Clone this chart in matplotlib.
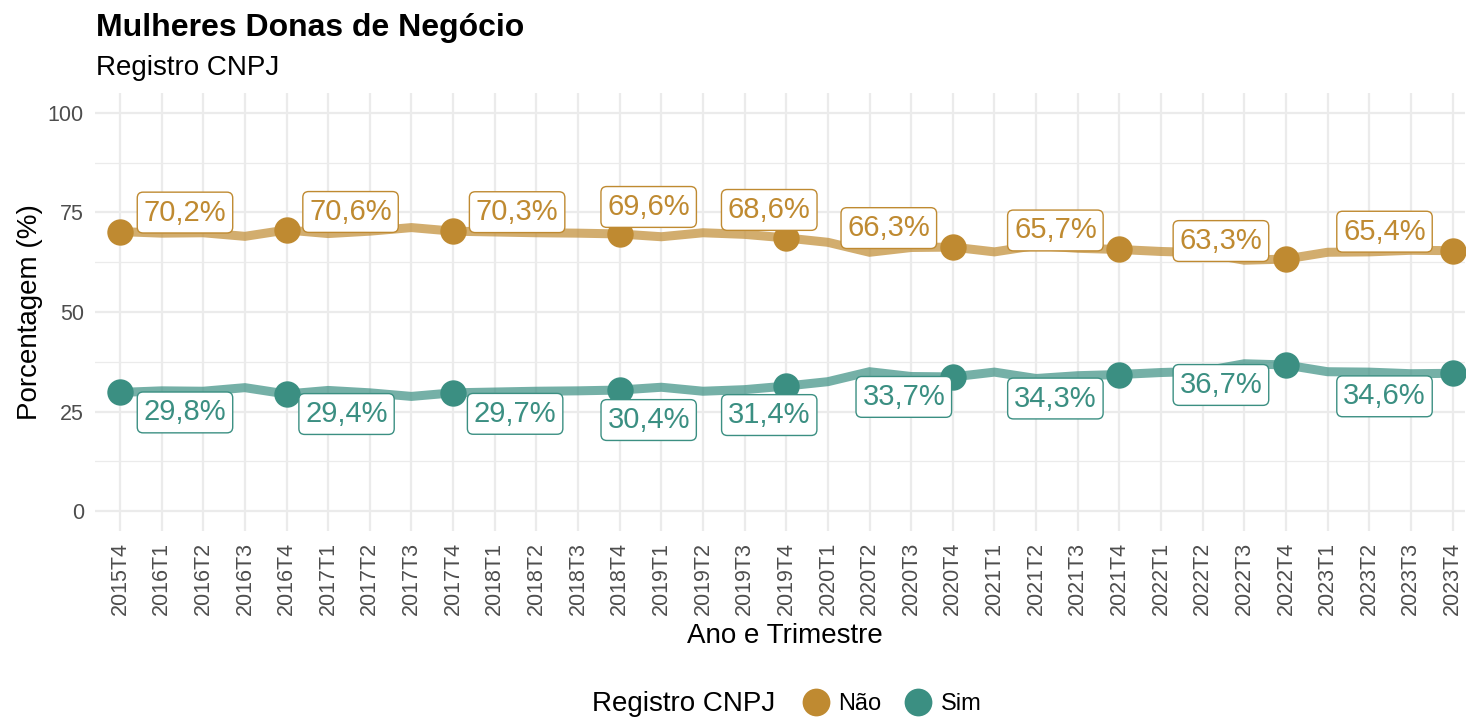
import matplotlib.pyplot as plt
from matplotlib.lines import Line2D

plt.rcParams['font.family'] = ['Liberation Sans', 'DejaVu Sans']

trimestres = ['2015T4',
              '2016T1', '2016T2', '2016T3', '2016T4',
              '2017T1', '2017T2', '2017T3', '2017T4',
              '2018T1', '2018T2', '2018T3', '2018T4',
              '2019T1', '2019T2', '2019T3', '2019T4',
              '2020T1', '2020T2', '2020T3', '2020T4',
              '2021T1', '2021T2', '2021T3', '2021T4',
              '2022T1', '2022T2', '2022T3', '2022T4',
              '2023T1', '2023T2', '2023T3', '2023T4']

nao = [70.2,
       69.8, 69.9, 69.0, 70.6,
       69.7, 70.3, 71.2, 70.3,
       70.1, 69.9, 69.8, 69.6,
       68.9, 69.9, 69.5, 68.6,
       67.5, 65.0, 66.2, 66.3,
       65.1, 66.7, 66.0, 65.7,
       65.2, 64.9, 63.0, 63.3,
       65.0, 65.1, 65.5, 65.4]

sim = [29.8,
       30.2, 30.1, 31.0, 29.4,
       30.3, 29.7, 28.8, 29.7,
       29.9, 30.1, 30.2, 30.4,
       31.1, 30.1, 30.5, 31.4,
       32.5, 35.0, 33.8, 33.7,
       34.9, 33.3, 34.0, 34.3,
       34.8, 35.1, 37.0, 36.7,
       35.0, 34.9, 34.5, 34.6]

cor_nao = '#bf8a31'
cor_sim = '#3b8f82'

# label offsets (pixels) picked to mimic the repelled labels
desloc_nao = [(65, 19), (64, 18), (64, 19), (29, 27), (-17, 28),
              (-64, 19), (-64, 19), (-65, 18), (-68, 19)]
desloc_sim = [(65, -20), (60, -20), (62, -21), (29, -30), (-17, -29),
              (-49, -20), (-64, -24), (-65, -20), (-68, -23)]

W, H = 1468, 718
fig = plt.figure(figsize=(W / 100, H / 100), dpi=100)
ax = fig.add_axes([95 / W, 1 - 531 / H, (1465 - 95) / W, (531 - 93) / H])

x = list(range(len(trimestres)))
marcados = [i for i, t in enumerate(trimestres) if t.endswith('T4')]

for serie, cor, desloc in [(nao, cor_nao, desloc_nao), (sim, cor_sim, desloc_sim)]:
    ax.plot(x, serie, color=cor, lw=6.5, alpha=0.7, solid_joinstyle='miter', zorder=3)
    ax.plot([x[i] for i in marcados], [serie[i] for i in marcados], 'o',
            color=cor, ms=19, mec='none', zorder=4)
    for (dx, dy), i in zip(desloc, marcados):
        rotulo = f'{serie[i]:.1f}%'.replace('.', ',')
        ax.annotate(rotulo, (x[i], serie[i]), xytext=(dx * 0.72, dy * 0.72),
                    textcoords='offset points', ha='center', va='center',
                    fontsize=21, color=cor, zorder=5,
                    bbox=dict(boxstyle='round,pad=0.22,rounding_size=0.2',
                              fc='white', ec=cor, lw=1))

ax.set_xlim(-0.6, 32.3)
ax.set_ylim(-5, 105)
ax.set_xticks(x)
ax.set_xticklabels(trimestres, rotation=90)
ax.set_yticks([0, 25, 50, 75, 100])
ax.set_yticks([12.5, 37.5, 62.5, 87.5], minor=True)
ax.tick_params(axis='both', which='both', length=0, labelsize=15.5,
               labelcolor='#4d4d4d', pad=8)
ax.grid(True, which='major', color='#ebebeb', lw=1.6, zorder=0)
ax.grid(True, which='minor', axis='y', color='#ebebeb', lw=0.9, zorder=0)
for s in ax.spines.values():
    s.set_visible(False)

fig.text(30 / W, 1 - 312 / H, 'Porcentagem (%)', rotation=90, fontsize=20,
         ha='center', va='center')
fig.text(785 / W, 1 - 636 / H, 'Ano e Trimestre', fontsize=20,
         ha='center', va='center')

fig.text(96 / W, 1 - 28 / H, 'Mulheres Donas de Negócio', fontsize=23,
         fontweight='bold', ha='left', va='center')
fig.text(96 / W, 1 - 68 / H, 'Registro CNPJ', fontsize=20, ha='left', va='center')

fig.text(592 / W, 1 - 704 / H, 'Registro CNPJ', fontsize=20, ha='left', va='center')
handles = [Line2D([], [], ls='none', marker='o', ms=20, color=cor_nao, mec='none'),
           Line2D([], [], ls='none', marker='o', ms=20, color=cor_sim, mec='none')]
fig.legend(handles, ['Não', 'Sim'], loc='center left', ncol=2,
           bbox_to_anchor=(802 / W, 1 - 704 / H), frameon=False, fontsize=17,
           handlelength=1.2, handletextpad=0.35, columnspacing=0.95,
           borderpad=0, borderaxespad=0)

fig.savefig('out.png', dpi=100)
